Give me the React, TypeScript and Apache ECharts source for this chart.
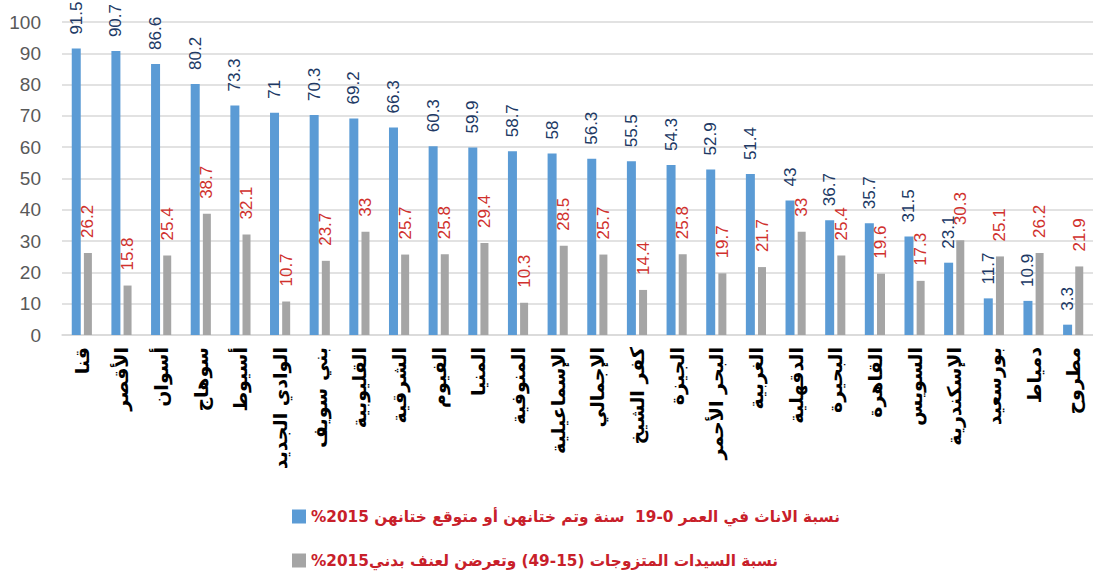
import React, { useEffect, useRef } from "react";
import * as echarts from "echarts";

const categories = [
  "قنا", "الأقصر", "أسوان", "سوهاج", "أسيوط", "الوادي الجديد", "بني سويف",
  "القليوبية", "الشرقية", "الفيوم", "المنيا", "المنوفية", "الإسماعيلية",
  "الإجمالي", "كفر الشيخ", "الجيزة", "البحر الأحمر", "الغربية", "الدقهلية",
  "البحيرة", "القاهرة", "السويس", "الإسكندرية", "بورسعيد", "دمياط", "مطروح",
];

const fgmValues = [
  91.5, 90.7, 86.6, 80.2, 73.3, 71, 70.3, 69.2, 66.3, 60.3, 59.9, 58.7, 58,
  56.3, 55.5, 54.3, 52.9, 51.4, 43, 36.7, 35.7, 31.5, 23.1, 11.7, 10.9, 3.3,
];

const violenceValues = [
  26.2, 15.8, 25.4, 38.7, 32.1, 10.7, 23.7, 33, 25.7, 25.8, 29.4, 10.3, 28.5,
  25.7, 14.4, 25.8, 19.7, 21.7, 33, 25.4, 19.6, 17.3, 30.3, 25.1, 26.2, 21.9,
];

const seriesNames = [
  "\u202Bنسبة الاناث في العمر 0-19  سنة وتم ختانهن أو متوقع ختانهن 2015%\u202C",
  "\u202Bنسبة السيدات المتزوجات (15-49) وتعرضن لعنف بدني2015%\u202C",
];

const yTicks = { min: 0, max: 100, interval: 10 };

export default function App() {
  const ref = useRef<HTMLDivElement>(null);
  useEffect(() => {
    if (!ref.current) return;
    const chart = echarts.init(ref.current, null, { renderer: "svg" });
    chart.setOption({
      animation: false,
      backgroundColor: "#ffffff",
      grid: { left: 62, right: -3, top: 22, bottom: 242, containLabel: false },
      legend: {
        orient: "vertical",
        left: 287,
        top: 504,
        height: 73,
        itemWidth: 14,
        itemHeight: 14,
        itemGap: 29,
        icon: "rect",
        textStyle: {
          fontFamily: "DejaVu Sans",
          fontSize: 15.3,
          fontWeight: "bold",
          color: "#C8202A",
        },
        data: seriesNames,
      },
      xAxis: {
        type: "category",
        data: categories,
        axisTick: { show: false },
        axisLine: { lineStyle: { color: "#d9d9d9", width: 1.5 } },
        axisLabel: {
          interval: 0,
          rotate: 90,
          margin: 12,
          fontFamily: "DejaVu Sans",
          fontSize: 19,
          fontWeight: "bold",
          color: "#000000",
        },
      },
      yAxis: {
        type: "value",
        min: yTicks.min,
        max: yTicks.max,
        interval: yTicks.interval,
        axisLine: { show: false },
        axisTick: { show: false },
        splitLine: { lineStyle: { color: "#d9d9d9", width: 1.5 } },
        axisLabel: {
          margin: 21,
          fontFamily: "Liberation Sans",
          fontSize: 19,
          color: "#595959",
        },
      },
      series: [
        {
          name: seriesNames[0],
          type: "bar",
          data: fgmValues,
          barWidth: 9,
          barGap: "35%",
          itemStyle: { color: "#5B9BD5" },
          label: {
            show: true,
            position: "top",
            rotate: 90,
            align: "left",
            verticalAlign: "middle",
            distance: 14,
            fontFamily: "Liberation Sans",
            fontSize: 17,
            color: "#203864",
          },
        },
        {
          name: seriesNames[1],
          type: "bar",
          data: violenceValues,
          barWidth: 8,
          barGap: "35%",
          itemStyle: { color: "#A5A5A5" },
          label: {
            show: true,
            position: "top",
            rotate: 90,
            align: "left",
            verticalAlign: "middle",
            distance: 15,
            fontFamily: "Liberation Sans",
            fontSize: 17,
            color: "#D0312D",
          },
        },
      ],
    });
    return () => chart.dispose();
  }, []);
  return (
    <div
      ref={ref}
      style={{ position: "fixed", left: 0, top: 0, width: 1093, height: 577 }}
    />
  );
}
